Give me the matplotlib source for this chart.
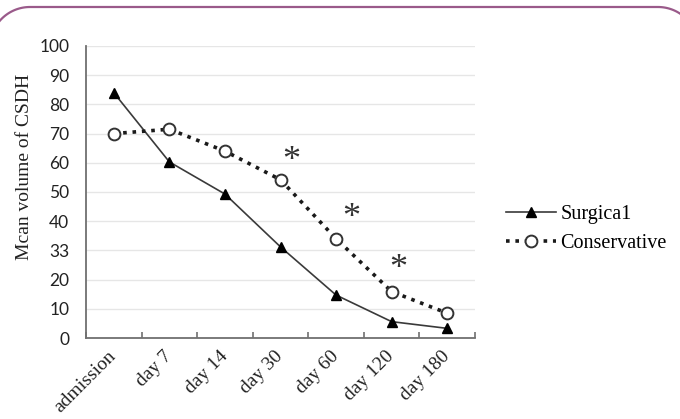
import numpy as np
import matplotlib
matplotlib.use("Agg")
import matplotlib.pyplot as plt
from matplotlib.lines import Line2D
from matplotlib.transforms import ScaledTranslation

# data
categories = ["admission", "day 7", "day 14", "day 30", "day 60", "day 120", "day 180"]
surgical = [84, 60.3, 49.3, 31.2, 14.7, 5.6, 3.3]
conservative = [70, 71.5, 64, 54.2, 34, 15.9, 8.5]
ytick_values = [0, 10, 20, 30, 40, 50, 60, 70, 80, 90, 100]
ytick_labels = ["0", "10", "20", "33", "40", "50", "60", "70", "80", "90", "100"]
# significance stars (category position, value)
star_x = [3.2, 4.27, 5.12]
star_y = [63.4, 43.8, 26.4]

serif = "Liberation Serif"
sans = "Lato"
W, H = 680, 419

fig = plt.figure(figsize=(W / 100, H / 100), dpi=100)
ax = fig.add_axes([86 / W, 1 - 338 / H, (475 - 86) / W, (338 - 46) / H])

x = np.arange(len(categories))
ax.plot(x, surgical, color="#3a3a3a", lw=1.2, marker="^", ms=7,
        mfc="black", mec="black", label="Surgica1", zorder=3)
ax.plot(x, conservative, color="#1a1a1a", lw=2.6, linestyle=(0, (1, 1.6)),
        marker="o", ms=8.5, mfc="white", mec="#333333", mew=1.4,
        label="Conservative", zorder=3)

for sx, sy in zip(star_x, star_y):
    ax.annotate("*", (sx, sy), xytext=(0, -6), textcoords="offset points",
                fontsize=26, family=serif, ha="center", va="center",
                color="#333333")

ax.set_xlim(-0.5, len(categories) - 0.5)
ax.set_ylim(0, 100)

ax.set_yticks(ytick_values)
ax.set_yticklabels(ytick_labels, family=sans, fontsize=12.5, color="#222222")
ax.tick_params(axis="y", length=0, pad=12)
ax.yaxis.grid(True, color="#e6e6e6", lw=1)
ax.set_axisbelow(True)

ax.set_xticks(x)
ax.set_xticklabels(categories, family=serif, fontsize=14, rotation=45,
                   ha="right", color="#222222")
ax.tick_params(axis="x", which="major", length=0, pad=7)
ax.set_xticks(np.arange(-0.5, len(categories)), minor=True)
ax.tick_params(axis="x", which="minor", direction="in", length=4,
               width=1.2, color="#707070")
shift = ScaledTranslation(6 / 100, 0, fig.dpi_scale_trans)
for lbl in ax.get_xticklabels():
    lbl.set_transform(lbl.get_transform() + shift)

for side in ["top", "right"]:
    ax.spines[side].set_visible(False)
ax.spines["left"].set_color("#707070")
ax.spines["bottom"].set_color("#707070")
ax.spines["left"].set_linewidth(1.3)
ax.spines["bottom"].set_linewidth(1.3)

fig.text(25 / W, 1 - 167 / H, "Mcan volume of CSDH", rotation=90,
         family=serif, fontsize=14, ha="center", va="center", color="#222222")

leg = fig.legend(loc="center left", bbox_to_anchor=(506 / W, 1 - 229 / H),
                 frameon=False, prop={"family": serif, "size": 14.5},
                 handlelength=2.5, handletextpad=0.2, labelspacing=0.5,
                 borderpad=0, borderaxespad=0, numpoints=1)

# rounded purple frame along the top edge (pixel coords, y from top)
r = 40
t1 = np.linspace(np.pi, np.pi / 2, 40)
t2 = np.linspace(np.pi / 2, 0, 40)
fx = np.concatenate([[30 - r], 30 + r * np.cos(t1), 658 + r * np.cos(t2), [658 + r]])
fy = np.concatenate([[120], 47 - r * np.sin(t1), 47 - r * np.sin(t2), [120]])
fig.add_artist(Line2D(fx / W, 1 - fy / H, transform=fig.transFigure,
                      color="#9a5a8a", lw=1.6))

fig.savefig("out.png", dpi=100)
